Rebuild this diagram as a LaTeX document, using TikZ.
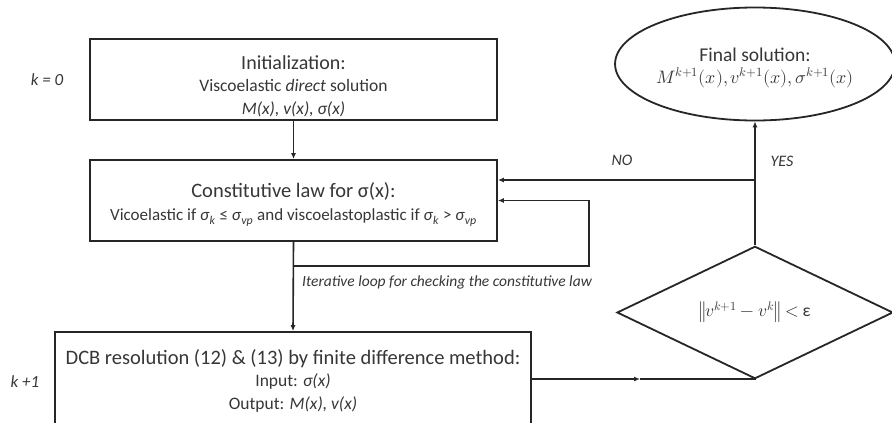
\documentclass[tikz,border=0pt]{standalone}
\usepackage{fontspec}
\usepackage{unicode-math}
\setmainfont{Carlito}
\usetikzlibrary{shapes.geometric,arrows.meta}
\definecolor{linec}{RGB}{38,38,38}
\definecolor{txtc}{RGB}{55,55,55}
\begin{document}
\begin{tikzpicture}[x=1pt,y=-1pt,
  box/.style={draw=linec,line width=1.8pt,rectangle,inner sep=0pt,align=center,text=txtc},
  arr/.style={draw=linec,line width=1.6pt,-{Latex[length=6pt,width=5pt]}},
  ln/.style={draw=linec,line width=1.6pt},
  lbl/.style={text=txtc,inner sep=0pt,font=\fontsize{16}{18}\selectfont\itshape},
  bodyfont/.style={font=\fontsize{17.5}{22.5}\selectfont}]
\clip (0,0) rectangle (892,423);
\fill[white] (0,0) rectangle (892,423);

\node[box,bodyfont,minimum width=407pt,minimum height=81pt] (init) at (293.5,79.5)
  {\rule{0pt}{27pt}{\fontsize{20}{22.5}\selectfont Initialization:}\\
   Viscoelastic \textit{direct} solution\\
   \textit{M(x), v(x), σ(x)}};

\node[box,bodyfont,minimum width=407pt,minimum height=81pt,font=\fontsize{17}{22.5}\selectfont] (law) at (293.5,200.5)
  {\rule{0pt}{23pt}{\fontsize{20.5}{23}\selectfont Constitutive law for σ(x):}\\
   Vicoelastic if \textit{σ}\textsubscript{\textit{k}} ≤ \textit{σ}\textsubscript{\textit{vp}} and viscoelastoplastic if \textit{σ}\textsubscript{\textit{k}} > \textit{σ}\textsubscript{\textit{vp}}};

\node[box,bodyfont,minimum width=476pt,minimum height=94pt] (dcb) at (293,379)
  {\rule{0pt}{18pt}{\fontsize{20.5}{23}\selectfont DCB resolution (12) \& (13) by finite difference method:}\\
   Input: \textit{σ(x)}\\
   Output: \textit{M(x), v(x)}};

\node[draw=linec,line width=1.8pt,diamond,inner sep=0pt,minimum width=276pt,minimum height=81pt,text=txtc,font=\fontsize{17.5}{20}\selectfont] (dia) at (755,312.5)
  {$\left\| v^{k+1} - v^{k} \right\| <$ ε};

\node[draw=linec,line width=1.8pt,ellipse,inner sep=0pt,minimum width=258pt,minimum height=113pt,text=txtc,align=center,font=\fontsize{18}{22}\selectfont] (fin) at (755,64)
  {\rule{0pt}{21pt}{\fontsize{19.5}{22}\selectfont Final solution:}\\
   $M^{k+1}(x), v^{k+1}(x), \sigma^{k+1}(x)$};

\node[lbl,font=\fontsize{17}{19}\selectfont\itshape] (k0) at (47,80) {k = 0};
\node[lbl,font=\fontsize{17}{19}\selectfont\itshape] (k1) at (25,382) {k +1};

% connectors
\draw[arr] (init.south) -- (law.north);
\draw[arr] (law.south) -- (dcb.north);

\coordinate (lp) at (293.5,266);
\coordinate (lc) at (589,266);
\draw[arr] (lp) -- (lc) |- (law.east);
\node[lbl,anchor=west,font=\fontsize{15.5}{18}\selectfont\itshape] (looplbl) at (302,282) {Iterative loop for checking the constitutive law};

\coordinate (mid) at (640,379);
\draw[arr] (dcb.east) -- (mid);
\draw[ln] (mid) -| (dia.south);

\draw[arr] (dia.north) -- (fin.south);
\coordinate (nob) at (755,180);
\draw[arr] (nob) -- (nob -| law.east);
\node[lbl] (yes) at (782,161) {YES};
\node[lbl] (no) at (622,160) {NO};
\end{tikzpicture}
\end{document}
